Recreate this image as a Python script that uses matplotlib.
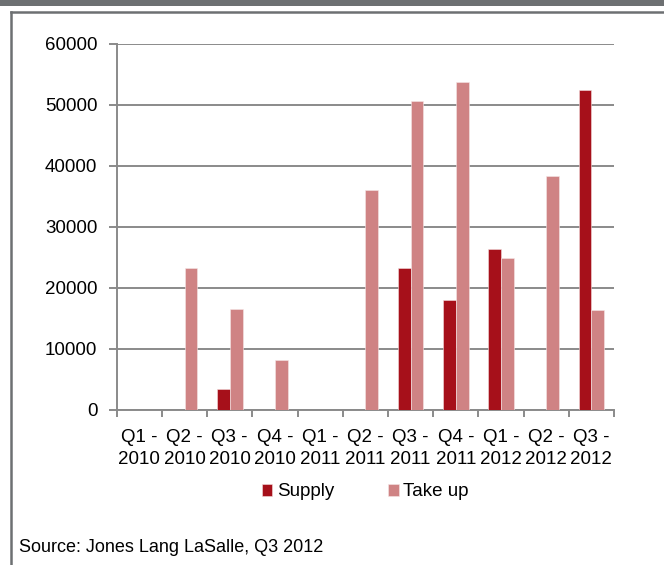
import matplotlib.pyplot as plt
from matplotlib.patches import Rectangle
from matplotlib.lines import Line2D
import numpy as np

plt.rcParams['font.family'] = ['Liberation Sans', 'DejaVu Sans']

# Quarterly supply and take up
quarters = ["Q1 -\n2010", "Q2 -\n2010", "Q3 -\n2010", "Q4 -\n2010",
            "Q1 -\n2011", "Q2 -\n2011", "Q3 -\n2011", "Q4 -\n2011",
            "Q1 -\n2012", "Q2 -\n2012", "Q3 -\n2012"]
supply = [0, 0, 3400, 0, 0, 0, 23300, 18000, 26300, 0, 52400]
take_up = [0, 23200, 16500, 8200, 0, 36000, 50600, 53800, 24900, 38400, 16300]

c_supply = '#a6101a'
c_take = '#cf8384'
grid_c = '#8a8a8a'
frame_c = '#6d7072'

W, H = 664, 565
fig = plt.figure(figsize=(W / 100, H / 100), dpi=100)

# header strip and panel frame
fig.patches.append(Rectangle((0, 1 - 6 / H), 1, 6 / H, transform=fig.transFigure,
                             facecolor=frame_c, edgecolor='none'))
fig.lines.append(Line2D([11 / W, 1], [1 - 12 / H, 1 - 12 / H], transform=fig.transFigure,
                        color=frame_c, lw=1.8))
fig.lines.append(Line2D([11 / W, 11 / W], [0, 1 - 12 / H], transform=fig.transFigure,
                        color=frame_c, lw=1.8))

ax = fig.add_axes([116.7 / W, 1 - 409.5 / H, (614 - 116.7) / W, (409.5 - 44) / H])

x = np.arange(len(quarters))
bw = 0.285
ax.bar(x - bw / 2, supply, bw, color=c_supply, edgecolor='#f3dede', linewidth=0.4,
       label='Supply', zorder=3)
ax.bar(x + bw / 2, take_up, bw, color=c_take, edgecolor='#f6e6e6', linewidth=0.4,
       label='Take up', zorder=3)

ax.set_xlim(-0.5, len(quarters) - 0.5)
ax.set_ylim(0, 60000)
ax.set_yticks(range(0, 60001, 10000))
ax.yaxis.grid(True, color=grid_c, lw=1.4)
ax.set_axisbelow(True)

for s in ['top', 'right']:
    ax.spines[s].set_visible(False)
for s in ['left', 'bottom']:
    ax.spines[s].set_color(grid_c)
    ax.spines[s].set_linewidth(1.4)

fs = 13.5

# category ticks sit on the boundaries, labels in the middle
ax.set_xticks(np.arange(-0.5, len(quarters)), minor=False)
ax.set_xticklabels([])
ax.set_xticks(x, minor=True)
ax.set_xticklabels(quarters, minor=True, fontsize=fs, linespacing=1.4)
ax.tick_params(axis='x', which='major', length=5, width=1.4, color=grid_c)
ax.tick_params(axis='x', which='minor', length=0, pad=14)
ax.tick_params(axis='y', length=6, width=1.4, color=grid_c, labelsize=fs, pad=8)

ax.legend(loc='center', bbox_to_anchor=(0.5, (409.5 - 492) / (409.5 - 44)), ncol=2,
          frameon=False, fontsize=fs, handlelength=0.55, handleheight=0.55,
          handletextpad=0.25, columnspacing=2.9, borderaxespad=0)

fig.text(19 / W, 1 - 548 / H, "Source: Jones Lang LaSalle, Q3 2012", fontsize=13,
         va='center', ha='left')

fig.savefig('out.png', dpi=100)
